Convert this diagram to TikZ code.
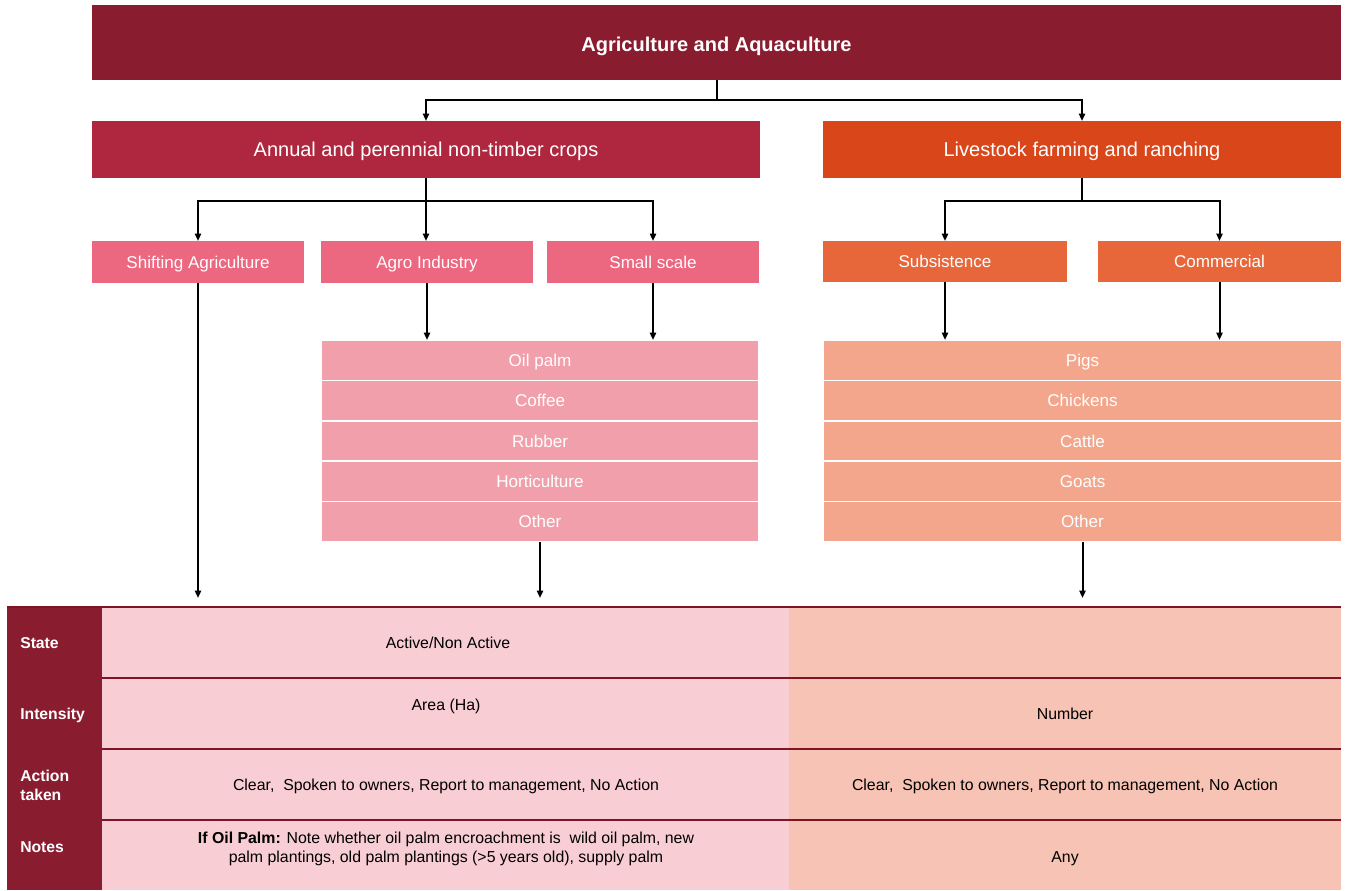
\documentclass[tikz,border=0pt]{standalone}
\usepackage{fontspec}
\setmainfont{Liberation Sans}
\usetikzlibrary{arrows.meta,fit,positioning}

\definecolor{maroon}{HTML}{8A1C2F}
\definecolor{crimson}{HTML}{AF273E}
\definecolor{rust}{HTML}{D9461A}
\definecolor{rosy}{HTML}{EC6780}
\definecolor{coral}{HTML}{E8673A}
\definecolor{lightrose}{HTML}{F29FAC}
\definecolor{lightcoral}{HTML}{F3A68B}
\definecolor{palerose}{HTML}{F8CED4}
\definecolor{palecoral}{HTML}{F7C3B4}
\definecolor{rule}{HTML}{7E1426}

\newcommand{\fs}[2]{\fontsize{#1}{#2}\selectfont}

\tikzset{
  cell/.style={inner sep=0pt, outer sep=0pt, draw=none},
  listrow/.style={cell, draw=white, line width=1.2pt},
  capc/.style={inner sep=0pt, text height=#1, text depth=0pt},
  link/.style={draw=black, line width=1.5pt, -{Triangle[length=5.5pt,width=4.6pt]}},
  tabrule/.style={draw=rule, line width=1pt},
  headtext/.style={capc=10.75pt, text=white, font=\fs{15}{18}\bfseries},
  grouptext/.style={capc=10.75pt, text=white, font=\fs{15}{18}},
  subtext/.style={capc=9.16pt, text=white, font=\fs{12.8}{15}},
  itemtext/.style={capc=9.16pt, text=white, font=\fs{12.8}{15}},
  bodytext/.style={capc=8.52pt, text=black, font=\fs{11.9}{14.25}},
  labeltext/.style={capc=8.45pt, text=white, font=\fs{11.8}{14.25}\bfseries, anchor=west},
}

\begin{document}
\begin{tikzpicture}[x=0.75pt, y=-0.75pt]
\useasboundingbox (0,0) rectangle (1348,890);

% title band
\node[cell, fill=maroon, fit={(92,5) (1341,80)}] (top) {};
\node[headtext] (toptxt) at ([yshift=-1.2pt]top.center) {Agriculture and Aquaculture};

% main groups
\node[cell, fill=crimson, fit={(92,121) (760,178)}] (crops) {};
\node[grouptext] (cropstxt) at (crops.center) {Annual and perennial non-timber crops};
\node[cell, fill=rust, fit={(823,121) (1341,178)}] (live) {};
\node[grouptext] (livetxt) at (live.center) {Livestock farming and ranching};

% sub groups
\node[cell, fill=rosy, fit={(92,241) (304,283)}] (shift) {};
\node[subtext] (shifttxt) at (shift.center) {Shifting Agriculture};
\node[cell, fill=rosy, fit={(321,241) (533,283)}] (agro) {};
\node[subtext] (agrotxt) at (agro.center) {Agro Industry};
\node[cell, fill=rosy, fit={(547,241) (759,283)}] (small) {};
\node[subtext] (smalltxt) at (small.center) {Small scale};
\node[cell, fill=coral, fit={(823,241) (1067,282)}] (subs) {};
\node[subtext] (substxt) at (subs.center) {Subsistence};
\node[cell, fill=coral, fit={(1098,241) (1341,282)}] (comm) {};
\node[subtext] (commtxt) at (comm.center) {Commercial};

% crop list
\node[listrow, fill=lightrose, fit={(321,340) (759,380.4)}] (c1) {};
\node[listrow, fill=lightrose, fit={(321,380.4) (759,420.8)}] (c2) {};
\node[listrow, fill=lightrose, fit={(321,420.8) (759,461.2)}] (c3) {};
\node[listrow, fill=lightrose, fit={(321,461.2) (759,501.6)}] (c4) {};
\node[listrow, fill=lightrose, fit={(321,501.6) (759,542)}] (c5) {};
\node[itemtext] (c1t) at (c1.center) {Oil palm};
\node[itemtext] (c2t) at (c2.center) {Coffee};
\node[itemtext] (c3t) at (c3.center) {Rubber};
\node[itemtext] (c4t) at (c4.center) {Horticulture};
\node[itemtext] (c5t) at (c5.center) {Other};

% livestock list
\node[listrow, fill=lightcoral, fit={(823,340) (1342,380.4)}] (l1) {};
\node[listrow, fill=lightcoral, fit={(823,380.4) (1342,420.8)}] (l2) {};
\node[listrow, fill=lightcoral, fit={(823,420.8) (1342,461.2)}] (l3) {};
\node[listrow, fill=lightcoral, fit={(823,461.2) (1342,501.6)}] (l4) {};
\node[listrow, fill=lightcoral, fit={(823,501.6) (1342,542)}] (l5) {};
\node[itemtext] (l1t) at (l1.center) {Pigs};
\node[itemtext] (l2t) at (l2.center) {Chickens};
\node[itemtext] (l3t) at (l3.center) {Cattle};
\node[itemtext] (l4t) at (l4.center) {Goats};
\node[itemtext] (l5t) at (l5.center) {Other};

% attribute table
\node[cell, fill=maroon, fit={(7,607) (102,890)}] (labels) {};
\node[cell, fill=palerose, fit={(102,607) (789,890)}] (midcol) {};
\node[cell, fill=palecoral, fit={(789,607) (1341,890)}] (rightcol) {};
\coordinate (r1) at (0,607);
\coordinate (r2) at (0,678);
\coordinate (r3) at (0,749);
\coordinate (r4) at (0,820);
\draw[tabrule] (labels.west |- r1) -- (rightcol.east |- r1);
\draw[tabrule] (midcol.west |- r2) -- (rightcol.east |- r2);
\draw[tabrule] (midcol.west |- r3) -- (rightcol.east |- r3);
\draw[tabrule] (midcol.west |- r4) -- (rightcol.east |- r4);

\node[labeltext] (lstate) at (20,643) {State};
\node[labeltext] (lint) at (20,714) {Intensity};
\node[labeltext] (lact) at (20,776) {Action};
\node[labeltext] (lact2) at (20,795) {taken};
\node[labeltext] (lnotes) at (20,847) {Notes};

\node[bodytext] (mstate) at (448,643) {Active/Non Active};
\node[bodytext] (mint) at (446,705) {Area (Ha)};
\node[bodytext] (mact) at (446,785) {Clear,\ \ Spoken to owners, Report to management, No Action};
\node[bodytext] (mnotes) at (446,838)
  {\textbf{If Oil Palm:} Note whether oil palm encroachment is\ \ wild oil palm, new};
\node[bodytext] (mnotes2) at (446,857)
  {palm plantings, old palm plantings (>5 years old), supply palm};

\node[bodytext] (rint) at (1065,714) {Number};
\node[bodytext] (ract) at (1065,785) {Clear,\ \ Spoken to owners, Report to management, No Action};
\node[bodytext] (rnotes) at (1065,857) {Any};

% connectors
\coordinate (stop) at (0,598);
\draw[link] (top.south) -- ++(0,20) -| (crops.north);
\draw[link] (top.south) -- ++(0,20) -| (live.north);
\draw[link] (crops.south) -- ++(0,23) -| (shift.north);
\draw[link] (crops.south) -- (agro.north -| crops.south);
\draw[link] (crops.south) -- ++(0,23) -| (small.north);
\draw[link] (live.south) -- ++(0,23) -| (subs.north);
\draw[link] (live.south) -- ++(0,23) -| (comm.north);
\draw[link] (agro.south) -- (agro.south |- c1.north);
\draw[link] (small.south) -- (small.south |- c1.north);
\draw[link] (subs.south) -- (subs.south |- l1.north);
\draw[link] (comm.south) -- (comm.south |- l1.north);
\draw[link] (shift.south) -- (shift.south |- stop);
\draw[link] (c5.south) -- (c5.south |- stop);
\draw[link] (l5.south) -- (l5.south |- stop);
\end{tikzpicture}
\end{document}
